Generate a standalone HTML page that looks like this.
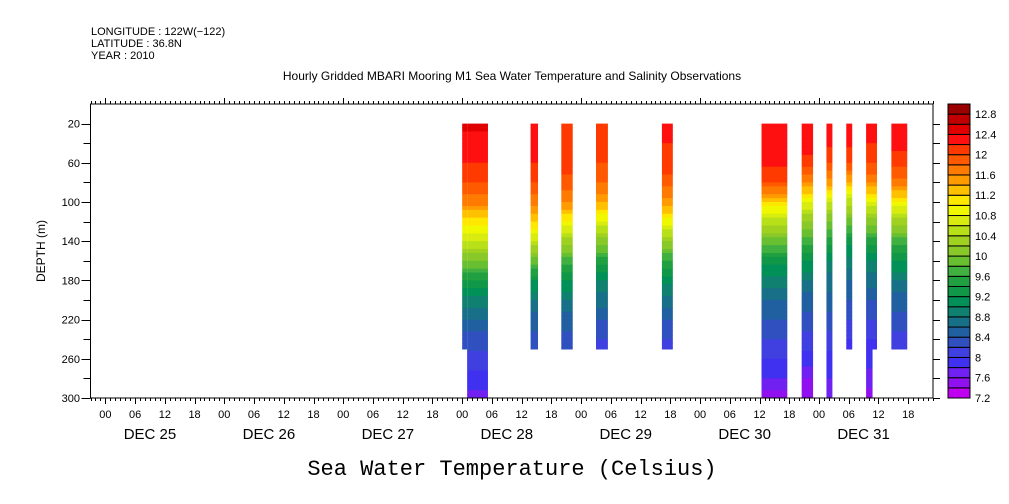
<!DOCTYPE html>
<html><head><meta charset="utf-8"><style>
body{margin:0;background:#fff;}
svg{display:block;font-family:"Liberation Sans",sans-serif;}
</style></head><body>
<svg id="chart" width="1009" height="504" viewBox="0 0 1009 504" xmlns="http://www.w3.org/2000/svg">
<g font-size="11" fill="#000">
<text x="91" y="35">LONGITUDE : 122W(−122)</text>
<text x="91" y="47">LATITUDE : 36.8N</text>
<text x="91" y="59">YEAR : 2010</text>
</g>
<text x="512" y="80" text-anchor="middle" font-size="12">Hourly Gridded MBARI Mooring M1 Sea Water Temperature and Salinity Observations</text>
<text x="512" y="475" text-anchor="middle" font-size="22" font-family="Liberation Mono, monospace">Sea Water Temperature (Celsius)</text>
<text transform="translate(45,251) rotate(-90)" text-anchor="middle" font-size="12">DEPTH (m)</text>
<g id="cells"></g>
<g id="axes"></g>
<g id="cbar"></g>
</svg>
<script>
// data
const depths = [20,40,60,80,100,120,140,160,180,200,220,240,260,280,300];
const segStart = [72, 73, 85.8, 92, 99, 112.3, 132.4, 140.5, 145.5, 149.5, 153.5, 153.5, 158.6];
const segEnd   = [73, 77.2, 87.3, 94.3, 101.4, 114.5, 137.6, 142.8, 146.7, 150.7, 155.7, 154.8, 161.8];
const segMinDepth = [20, 20, 20, 20, 20, 20, 20, 20, 20, 20, 20, 250, 20];
const segMaxDepth = [250, 300, 250, 250, 250, 250, 300, 300, 300, 250, 250, 300, 250];
const segProfiles = [
 [12.45,12.3,12.2,12.0,11.7,11.1,10.6,10.0,9.4,8.9,8.6,8.3,8.1,7.9,7.7],
 [12.45,12.3,12.2,12.0,11.7,11.1,10.6,10.0,9.4,8.9,8.6,8.3,8.1,7.9,7.7],
 [12.3,12.25,12.2,12.0,11.7,11.2,10.6,9.9,9.2,8.8,8.5,8.3,8.1,7.9,7.7],
 [12.1,12.1,12.05,11.95,11.6,11.0,10.3,9.7,9.2,8.8,8.5,8.3,8.1,7.9,7.7],
 [12.2,12.1,12.0,11.8,11.4,10.8,10.1,9.5,9.0,8.7,8.4,8.2,8.0,7.9,7.7],
 [12.3,12.2,12.1,11.9,11.5,10.9,10.2,9.6,9.1,8.7,8.4,8.2,8.0,7.9,7.7],
 [12.3,12.3,12.25,12.0,11.2,10.5,9.9,9.3,8.9,8.6,8.4,8.2,8.0,7.8,7.5],
 [12.4,12.3,12.1,11.6,10.8,10.2,9.7,9.2,8.8,8.5,8.3,8.1,7.9,7.6,7.4],
 [12.3,12.25,12.0,11.5,10.6,10.0,9.5,9.0,8.7,8.5,8.3,8.1,7.9,7.8,7.6],
 [12.3,12.25,12.0,11.4,10.5,9.9,9.3,8.9,8.6,8.4,8.2,8.0,7.9,7.8,7.6],
 [12.3,12.2,12.0,11.6,10.8,10.1,9.5,9.0,8.7,8.4,8.2,8.0,7.9,7.7,7.5],
 [12.3,12.2,12.0,11.6,10.8,10.1,9.5,9.0,8.7,8.4,8.2,8.0,7.9,7.7,7.5],
 [12.35,12.25,12.1,11.7,11.0,10.3,9.7,9.2,8.8,8.5,8.3,8.1,7.9,7.8,7.6]
];
const levels = [7.2,7.4,7.6,7.8,8.0,8.2,8.4,8.6,8.8,9.0,9.2,9.4,9.6,9.8,10.0,10.2,10.4,10.6,10.8,11.0,11.2,11.4,11.6,11.8,12.0,12.2,12.4,12.6,12.8];
const levelColors = ["#c000f0","#9010f0","#7020f0","#4030f0","#4040e0","#3050c0","#2060a0","#187088","#108070","#009058","#109848","#20a040","#40b040","#68c030","#88c828","#a0d020","#b8e018","#d8ec10","#f0f800","#ffe800","#ffc000","#ff9a00","#ff7a00","#ff5a00","#ff3a00","#ff1010","#e00000","#c00000","#9a0000"];
const cbarLabels = ["7.2","7.6","8","8.4","8.8","9.2","9.6","10","10.4","10.8","11.2","11.6","12","12.4","12.8"];
const yTicks = [20,60,100,140,180,220,260,300];
const dayLabels = ["DEC 25","DEC 26","DEC 27","DEC 28","DEC 29","DEC 30","DEC 31"];
const hourLabels = ["00","06","12","18"];

const NS="http://www.w3.org/2000/svg";
const L=90.5,R=933,T=104,B=398;
const X0=-3,X1=167,Y0=0,Y1=300;
const xs=h=>L+(h-X0)/(X1-X0)*(R-L);
const ys=d=>T+(d-Y0)/(Y1-Y0)*(B-T);
function mk(tag,attrs,parent){const e=document.createElementNS(NS,tag);for(const k in attrs)e.setAttribute(k,attrs[k]);parent.appendChild(e);return e;}
function colorFor(t){let i=0;for(let k=0;k<levels.length;k++){if(t>=levels[k])i=k;}return levelColors[i];}
function interp(p,d){if(d<=depths[0])return p[0];for(let i=1;i<depths.length;i++){if(d<=depths[i]){const f=(d-depths[i-1])/(depths[i]-depths[i-1]);return p[i-1]+f*(p[i]-p[i-1]);}}return p[p.length-1];}
const cells=document.getElementById('cells');
segStart.forEach((s,i)=>{
 const e=segEnd[i],p=segProfiles[i];
 const g=mk('g',{},cells);
 
 
 for(let d=segMinDepth[i];d<segMaxDepth[i];d+=4){
  const d2=Math.min(d+4,segMaxDepth[i]);
  mk('rect',{x:xs(s),y:ys(d),width:xs(e)-xs(s),height:ys(d2)-ys(d)+0.5,fill:colorFor(interp(p,(d+d2)/2))},g);
 }
});
const ax=document.getElementById('axes');
const frame=mk('rect',{x:L,y:T,width:R-L,height:B-T,fill:'none',stroke:'#000','stroke-width':1},ax);


for(let h=-3;h<=167;h++){
 const x=Math.round(xs(h))+0.5;
 const hh=((h%24)+24)%24;
 const big=hh===0, mid=hh%6===0;
 mk('line',{x1:x,x2:x,y1:T,y2:T-(big?6:3),stroke:'#000'},ax);
 mk('line',{x1:x,x2:x,y1:B,y2:B+(mid?6:3),stroke:'#000'},ax);
}
for(let d=0;d<7;d++){
 hourLabels.forEach((lb,j)=>{
  const t=mk('text',{x:xs(d*24+j*6),y:418,'text-anchor':'middle','font-size':11},ax);
  t.textContent=lb;
  
  
 });
 const t=mk('text',{x:xs(d*24+9),y:439,'text-anchor':'middle','font-size':15},ax);
 t.textContent=dayLabels[d];
 
 
}
for(let d=20;d<=300;d+=20){
 const y=Math.round(ys(d))+0.5;
 mk('line',{x1:L,x2:L-(d%40===20?9:7),y1:y,y2:y,stroke:'#000'},ax);
 mk('line',{x1:R,x2:R+7,y1:y,y2:y,stroke:'#000'},ax);
}
yTicks.forEach(d=>{
 const t=mk('text',{x:80,y:ys(d)+4,'text-anchor':'end','font-size':11},ax);
 t.textContent=d;
 
 
});
const cb=document.getElementById('cbar');
const CL=948,CR=970,CT=104,CB=398,n=levels.length,bh=(CB-CT)/n;
levels.forEach((lv,i)=>{
 const r=mk('rect',{x:CL,y:CB-(i+1)*bh,width:CR-CL,height:bh,fill:levelColors[i],stroke:'#000','stroke-width':1},cb);
 
 
});
cbarLabels.forEach((lb,i)=>{
 const t=mk('text',{x:975,y:CB-i*2*bh+4,'font-size':11},cb);
 t.textContent=lb;
 
 
});
</script>
</body></html>
